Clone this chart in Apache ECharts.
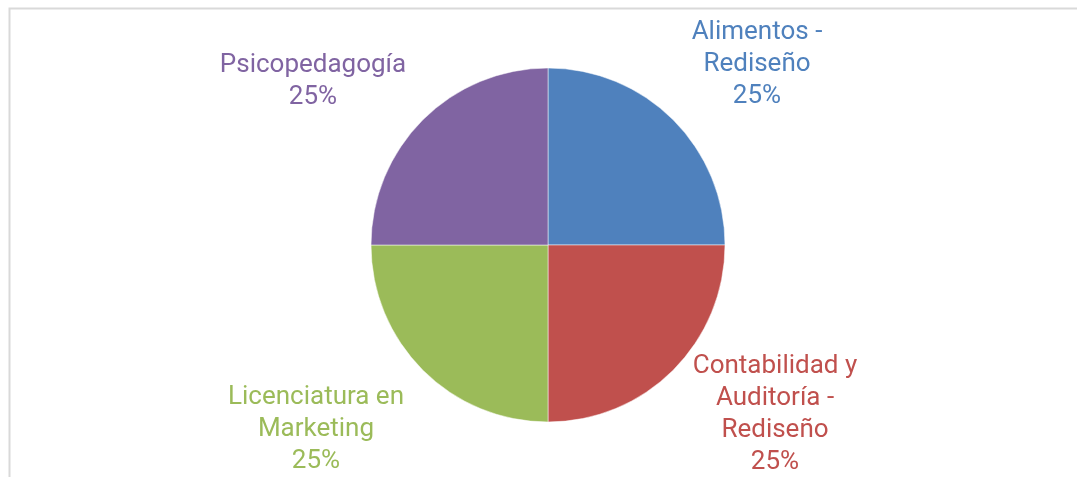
<!DOCTYPE html>
<html>
	<head>
		<meta charset="utf-8">
		<title></title>
		<script type="text/javascript" src="https://cdn.jsdelivr.net/npm/echarts@6/dist/echarts.min.js"></script>
		<style>
			html, body { margin: 0; padding: 0; background: #ffffff; }
			#chart { width: 1077px; height: 477px; }
		</style>
	</head>
	<body>
		<div id="chart"></div>
		<script type="text/javascript">
			var categories = ['Alimentos - Rediseño', 'Contabilidad y Auditoría - Rediseño', 'Licenciatura en Marketing', 'Psicopedagogía'];
			var values = [25, 25, 25, 25];
			// texto de las etiquetas con sus saltos de línea
			var labelLines = [
				['Alimentos -', 'Rediseño'],
				['Contabilidad y', 'Auditoría -', 'Rediseño'],
				['Licenciatura en', 'Marketing'],
				['Psicopedagogía']
			];
			var colors = ['#4f81bd', '#c0504d', '#9bbb59', '#8064a2'];
			// posición de cada etiqueta (centro del bloque de texto)
			var labelPos = [[757, 64], [775, 414], [316, 429], [313, 81]];

			var pieData = [];
			for (var i = 0; i < categories.length; i++) {
				pieData.push({
					name: categories[i],
					value: values[i],
					itemStyle: { color: colors[i] },
					label: { color: colors[i] }
				});
			}

			var myChart = echarts.init(document.getElementById('chart'));
			var option = {
				animation: false,
				graphic: [{
					type: 'rect',
					shape: { x: 9.5, y: 8.5, width: 1100, height: 500 },
					style: { fill: 'none', stroke: '#d9d9d9', lineWidth: 2 },
					silent: true
				}],
				series: [{
					type: 'pie',
					center: [548, 245],
					radius: 177,
					startAngle: 90,
					clockwise: true,
					data: pieData,
					itemStyle: { borderColor: '#ffffff', borderWidth: 0.5 },
					label: {
						show: true,
						position: 'outside',
						fontFamily: 'Roboto',
						fontSize: 26,
						lineHeight: 32,
						align: 'center',
						formatter: function(p) {
							return labelLines[p.dataIndex].join('\n') + '\n' + Math.round(p.percent) + '%';
						}
					},
					labelLine: { show: false },
					labelLayout: function(p) {
						var pos = labelPos[p.dataIndex];
						return { x: pos[0], y: pos[1], align: 'center', verticalAlign: 'middle' };
					}
				}]
			};
			myChart.setOption(option);
		</script>
	</body>
</html>
